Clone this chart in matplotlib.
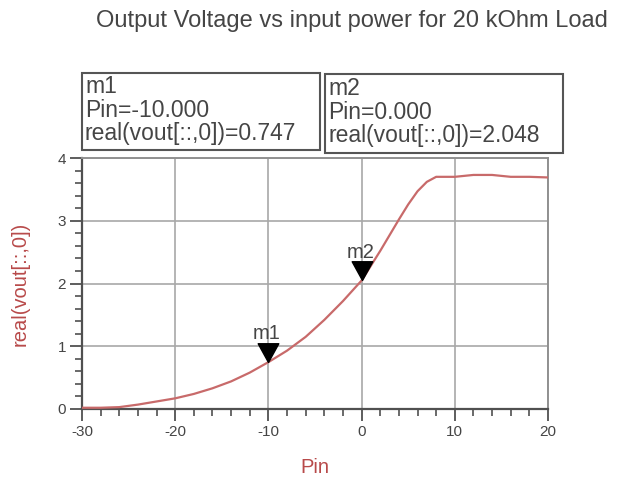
import matplotlib
matplotlib.use("Agg")
import matplotlib.pyplot as plt
from matplotlib.patches import Rectangle
from matplotlib.ticker import MultipleLocator

plt.rcParams['font.family'] = ['Liberation Sans', 'DejaVu Sans']
plt.rcParams['axes.unicode_minus'] = False

# Data
pin = [-30, -28, -26, -24, -22, -20, -18, -16, -14, -12, -10, -8, -6, -4, -2,
       0, 2, 4, 5, 6, 7, 8, 10, 12, 14, 16, 18, 20]
vout = [0.02, 0.02, 0.03, 0.07, 0.12, 0.17, 0.24, 0.33, 0.44, 0.58, 0.747, 0.93,
        1.15, 1.42, 1.72, 2.048, 2.52, 3.02, 3.26, 3.47, 3.62, 3.70, 3.70, 3.73,
        3.73, 3.70, 3.70, 3.69]

marker_names = ['m1', 'm2']
marker_pin = [-10, 0]
marker_val = [0.747, 2.048]

W, H = 624, 483
fig = plt.figure(figsize=(W / 100, H / 100), dpi=100)

def fx(x):
    return x / W

def fy(y):
    return 1 - y / H

ax = fig.add_axes([fx(82), fy(409), (548 - 82) / W, (409 - 158) / H])

curve_col = '#c86a6a'
label_col = '#b84a4a'
text_col = '#454545'

ax.plot(pin, vout, color=curve_col, lw=1.6, zorder=3)

# marker triangles, tip at the data point
tri = [(0, 0), (-0.55, 1), (0.55, 1), (0, 0)]
ax.plot(marker_pin, marker_val, ls='none', marker=tri, ms=27, color='black',
        mec='black', zorder=4, clip_on=False)
for name, p, v in zip(marker_names, marker_pin, marker_val):
    ax.annotate(name, (p, v), xytext=(-1, 16.5), textcoords='offset points',
                ha='center', va='baseline', fontsize=14.5, color=text_col)

ax.set_xlim(-30, 20)
ax.set_ylim(0, 4)
ax.xaxis.set_major_locator(MultipleLocator(10))
ax.xaxis.set_minor_locator(MultipleLocator(2))
ax.yaxis.set_major_locator(MultipleLocator(1))
ax.yaxis.set_minor_locator(MultipleLocator(0.2))
ax.tick_params(which='major', direction='out', length=8.5, width=1.3,
               color='#505050', labelsize=11, labelcolor='#454545', pad=3)
ax.tick_params(which='minor', direction='out', length=5, width=1.2,
               color='#505050')
ax.grid(True, which='major', color='#a8a8a8', lw=1.2)
for side in ['top', 'right']:
    ax.spines[side].set_color('#909090')
    ax.spines[side].set_linewidth(1.4)
for side in ['left', 'bottom']:
    ax.spines[side].set_color('#505050')
    ax.spines[side].set_linewidth(1.6)

ax.set_xlabel('Pin', fontsize=14.5, color=label_col, labelpad=14)
ax.set_ylabel('real(vout[::,0])', fontsize=14.5, color=label_col, labelpad=20)

fig.text(fx(352), fy(27), 'Output Voltage vs input power for 20 kOhm Load',
         ha='center', va='baseline', fontsize=17, color=text_col)

# marker readout boxes
boxes = [(82, 73, 320, 150), (325, 74, 563, 153)]
baselines = [(93, 117, 140), (95, 119, 142)]
for (x0, y0, x1, y1), bl, name, p, v in zip(boxes, baselines, marker_names,
                                            marker_pin, marker_val):
    fig.patches.append(Rectangle((fx(x0), fy(y1)), (x1 - x0) / W, (y1 - y0) / H,
                                 transform=fig.transFigure, fill=False,
                                 edgecolor='#555555', lw=1.5))
    lines = [name, f'Pin={p:.3f}', f'real(vout[::,0])={v:.3f}']
    for s, b in zip(lines, bl):
        fig.text(fx(x0 + 3), fy(b), s, ha='left', va='baseline',
                 fontsize=16.5, color=text_col)

fig.savefig('out.png', dpi=100)
